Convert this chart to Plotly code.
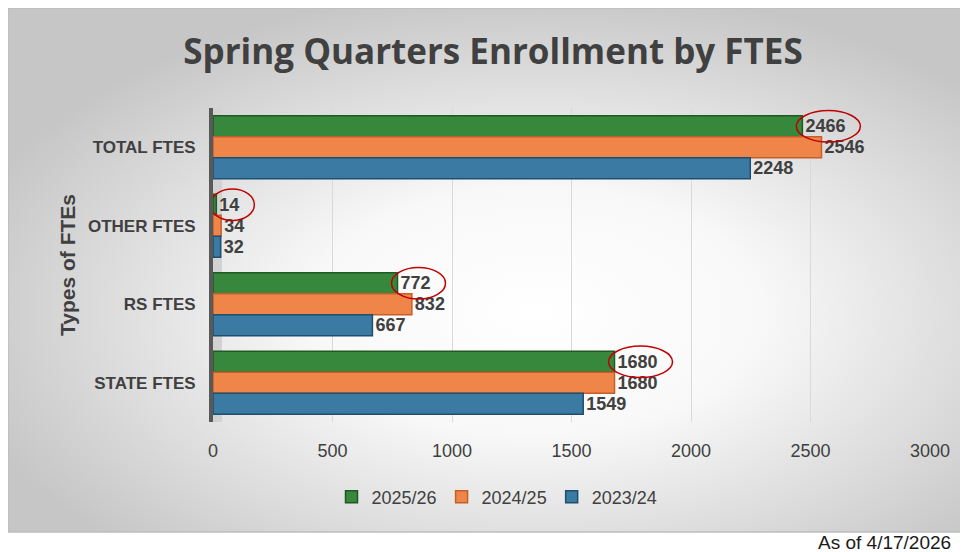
import base64
import plotly.graph_objects as go

# ---------------- data ----------------
categories = ["TOTAL FTES", "OTHER FTES", "RS FTES", "STATE FTES"]
series_names = ["2025/26", "2024/25", "2023/24"]
values_2025_26 = [2466, 14, 772, 1680]
values_2024_25 = [2546, 34, 832, 1680]
values_2023_24 = [2248, 32, 667, 1549]
x_tick_values = [0, 500, 1000, 1500, 2000, 2500, 3000]
x_max = 3000

# ---------------- styling ----------------
colors = ["#37873d", "#f0854a", "#3a7aa3"]
edge_colors = ["#1f5a24", "#c45f27", "#1e4f6f"]
text_color = "#404040"
font_main = "Liberation Sans, Arial, sans-serif"

# page has an 8px body margin; figure is placed at (8, 8)
OFF = 8
W, H = 960, 544
ML, MR, MT, MB = 205, 38, 100, 130
PW = W - ML - MR
PH = H - MT - MB
BARGAP = 0.2
BAR_W = (1 - BARGAP) / 3


def paper_x(page_px):
    return (page_px - OFF - ML) / PW


def paper_y(page_py):
    return (H - MB - (page_py - OFF)) / PH


def px_to_units(px):
    return px * x_max / PW


series_values = [values_2025_26, values_2024_25, values_2023_24]

fig = go.Figure()
for name, vals, col, ecol in zip(series_names, series_values, colors, edge_colors):
    fig.add_trace(go.Bar(
        name=name,
        y=categories,
        x=vals,
        orientation="h",
        marker=dict(color=col, line=dict(color=ecol, width=1.5)),
        text=[str(v) for v in vals],
        textposition="outside",
        constraintext="none",
        cliponaxis=False,
        textfont=dict(family=font_main, size=18, color=text_color, weight="bold"),
    ))

# chart frame (page pixels)
fx0, fy0, fx1, fy1 = 8, 8, 969, 532
svg = (
    "<svg xmlns='http://www.w3.org/2000/svg' width='961' height='524' preserveAspectRatio='none'>"
    "<defs><radialGradient id='g' cx='0.55' cy='0.58' r='0.62'>"
    "<stop offset='0' stop-color='#ffffff'/>"
    "<stop offset='0.38' stop-color='#f8f8f8'/>"
    "<stop offset='1' stop-color='#c6c6c6'/>"
    "</radialGradient></defs>"
    "<rect width='961' height='524' fill='url(#g)'/></svg>"
)
src = "data:image/svg+xml;base64," + base64.b64encode(svg.encode()).decode()

shapes = []
shapes.append(dict(type="rect", xref="paper", yref="paper",
                   x0=paper_x(fx0), x1=paper_x(fx1 + 2), y0=paper_y(fy1), y1=paper_y(fy0),
                   line=dict(color="#bdbdbd", width=1.5), fillcolor="rgba(0,0,0,0)", layer="below"))
# side wall (3D look)
shapes.append(dict(type="rect", xref="paper", yref="paper",
                   x0=0, x1=9 / PW, y0=0, y1=1,
                   line=dict(width=0), fillcolor="#d2d2d2", layer="below"))

# red ellipses around the 2025/26 labels
for i, v in enumerate(values_2025_26):
    digits = len(str(v))
    yc = i - BAR_W
    shapes.append(dict(type="circle", xref="x", yref="y",
                       x0=v - px_to_units(6), x1=v + px_to_units(10 * digits + 18),
                       y0=yc - 0.2, y1=yc + 0.2,
                       line=dict(color="#c00000", width=1.5), fillcolor="rgba(0,0,0,0)",
                       layer="above"))

fig.update_layout(
    width=W, height=H,
    margin=dict(l=ML, r=MR, t=MT, b=MB, pad=0),
    paper_bgcolor="white",
    plot_bgcolor="rgba(0,0,0,0)",
    barmode="group",
    bargap=BARGAP,
    bargroupgap=0,
    font=dict(family=font_main, color=text_color),
    title=dict(text="Spring Quarters Enrollment by FTES",
               font=dict(family="Open Sans, Liberation Sans, sans-serif", size=35,
                         color=text_color, weight="bold"),
               x=(493 - OFF) / W, xanchor="center", xref="container",
               y=1 - (52 - OFF) / H, yanchor="middle", yref="container"),
    xaxis=dict(range=[0, x_max], tickvals=x_tick_values,
               showgrid=True, gridcolor="#d9d9d9", gridwidth=1,
               zeroline=False, showline=False,
               ticks="outside", ticklen=12, tickcolor="rgba(0,0,0,0)",
               tickfont=dict(family=font_main, size=18, color=text_color)),
    yaxis=dict(categoryorder="array", categoryarray=categories,
               range=[3.5, -0.5],
               showgrid=False, zeroline=False,
               showline=True, linecolor="#595959", linewidth=4,
               ticks="outside", ticklen=10, tickcolor="rgba(0,0,0,0)",
               tickfont=dict(family=font_main, size=17, color=text_color, weight="bold"),
               title=dict(text="Types of FTEs", standoff=8,
                          font=dict(family=font_main, size=21, color=text_color, weight="bold"))),
    legend=dict(orientation="h", x=paper_x(497), xanchor="center",
                y=paper_y(497), yanchor="middle",
                font=dict(family=font_main, size=18, color=text_color),
                bgcolor="rgba(0,0,0,0)", traceorder="normal"),
    shapes=shapes,
    images=[dict(source=src, xref="paper", yref="paper",
                 x=paper_x(fx0), y=paper_y(fy0),
                 sizex=paper_x(fx1) - paper_x(fx0), sizey=paper_y(fy0) - paper_y(fy1),
                 xanchor="left", yanchor="top", sizing="stretch", layer="below")],
    annotations=[dict(text="As of 4/17/2026", xref="paper", yref="paper",
                      x=paper_x(953), xanchor="right", y=paper_y(542), yanchor="middle",
                      showarrow=False,
                      font=dict(family=font_main, size=19, color="#1a1a1a"))],
)

fig.write_html("out.html")
